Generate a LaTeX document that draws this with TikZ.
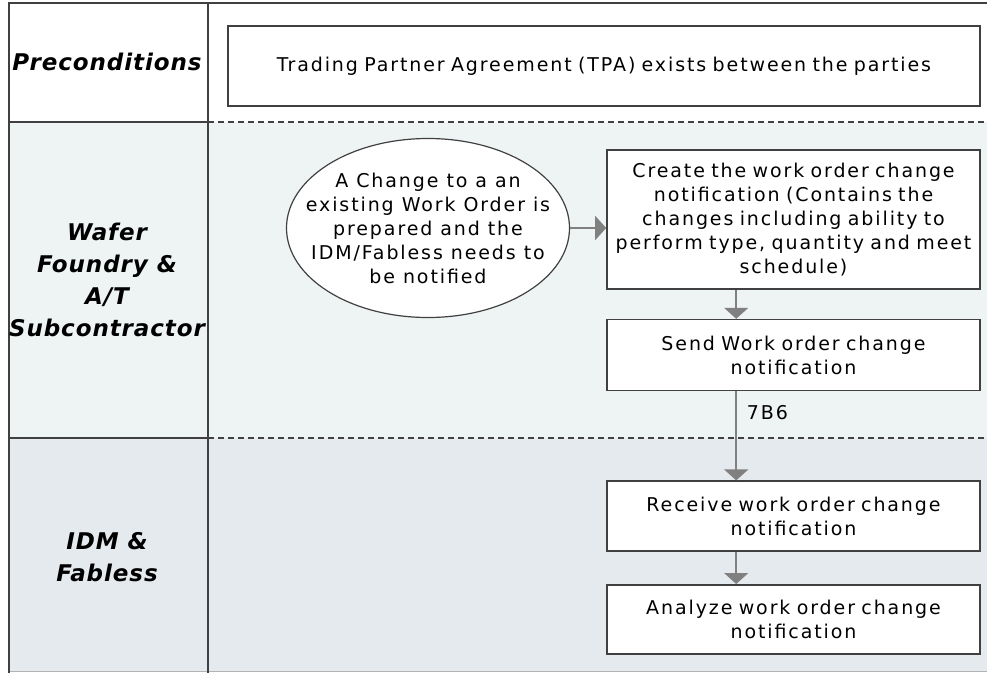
\documentclass[tikz,border=0pt]{standalone}
\usepackage{fontspec}
\setmainfont{DejaVu Sans}
\usetikzlibrary{positioning,arrows.meta,shapes.geometric}

\definecolor{waferbg}{HTML}{EEF3F3}
\definecolor{idmbg}{HTML}{E5EAEF}
\definecolor{rule}{HTML}{404040}
\definecolor{flowgray}{HTML}{808080}

\begin{document}
\begin{tikzpicture}[
  x=1pt, y=-1pt,
  font=\fontsize{19}{24}\selectfont\addfontfeature{LetterSpace=10},
  node distance=29pt,
  stepbox/.style={draw=rule, line width=1.6pt, fill=white, align=center,
                  minimum width=373pt, inner sep=2pt, text width=369pt},
  startev/.style={ellipse, draw=rule, line width=1.2pt, fill=white, align=center,
                  minimum width=283pt, minimum height=179pt,
                  inner xsep=-30pt, inner ysep=3pt},
  lanelbl/.style={font=\fontsize{23}{32}\selectfont\bfseries\itshape\addfontfeature{LetterSpace=4},
                  align=center, inner sep=0pt},
  divider/.style={draw=rule, line width=1.4pt},
  laneline/.style={draw=rule, line width=1.2pt, dash pattern=on 6pt off 4pt},
  flow/.style={draw=flowgray, line width=1.5pt,
               -{Triangle[width=24pt, length=11pt]}},
]
\useasboundingbox (0,0) rectangle (987,673);

% ============ Lane backgrounds ============
\fill[waferbg] (9,122) rectangle (987,438);
\fill[idmbg] (9,438) rectangle (987,671);
\draw[flowgray!60, line width=1pt] (9,671) -- (987,671);

% ---- lane borders ----
\draw[divider] (987,3) -- (9,3) -- (9,673);
\draw[divider] (208,3) -- (208,673);
\draw[divider] (9,122) -- (208,122);
\draw[divider] (9,438) -- (208,438);
\draw[laneline] (208,122) -- (987,122);
\draw[laneline] (208,438) -- (987,438);

% ---- lane labels ----
\node[lanelbl] (lblpre) at (107,62) {Preconditions};
\node[lanelbl] (lblwafer) at (107,280) {Wafer\\Foundry \&\\A/T\\Subcontractor};
\node[lanelbl] (lblidm) at (107,557) {IDM \&\\Fabless};

% ============ Preconditions ============
\node[stepbox, minimum width=752pt, text width=748pt, minimum height=80pt]
  (tpa) at (604,66) {Trading Partner Agreement (TPA) exists between the parties};

% ============ Wafer Foundry & A/T Subcontractor ============
\node[startev] (chg) at (428,228)
  {A Change to a an\\existing Work Order is\\prepared and the\\IDM/Fabless needs to\\be notified};
\node[stepbox, minimum height=139pt] (create) at (793.5,219.5)
  {Create the work order change\\notification (Contains the\\changes including ability to\\perform type, quantity and meet\\schedule)};
\node[stepbox, minimum height=71pt, below=29pt of create] (send)
  {Send Work order change\\notification};

% ============ IDM & Fabless ============
\node[stepbox, minimum height=70pt, below=89pt of send] (receive)
  {Receive work order change\\notification};
\node[stepbox, minimum height=69pt, below=32pt of receive] (analyze)
  {Analyze work order change\\notification};

% ---- connectors ----
\draw[flow] (chg.east) -- (create.west |- chg.east);
\draw[flow] ([xshift=130pt]create.south west) -- ([xshift=130pt]send.north west);
\draw[flow] ([xshift=130pt]send.south west) --
  node[pos=0.24, right, inner sep=0pt, xshift=10pt] (lbl7b6) {7B6}
  ([xshift=130pt]receive.north west);
\draw[flow] ([xshift=130pt]receive.south west) -- ([xshift=130pt]analyze.north west);

\end{tikzpicture}
\end{document}
